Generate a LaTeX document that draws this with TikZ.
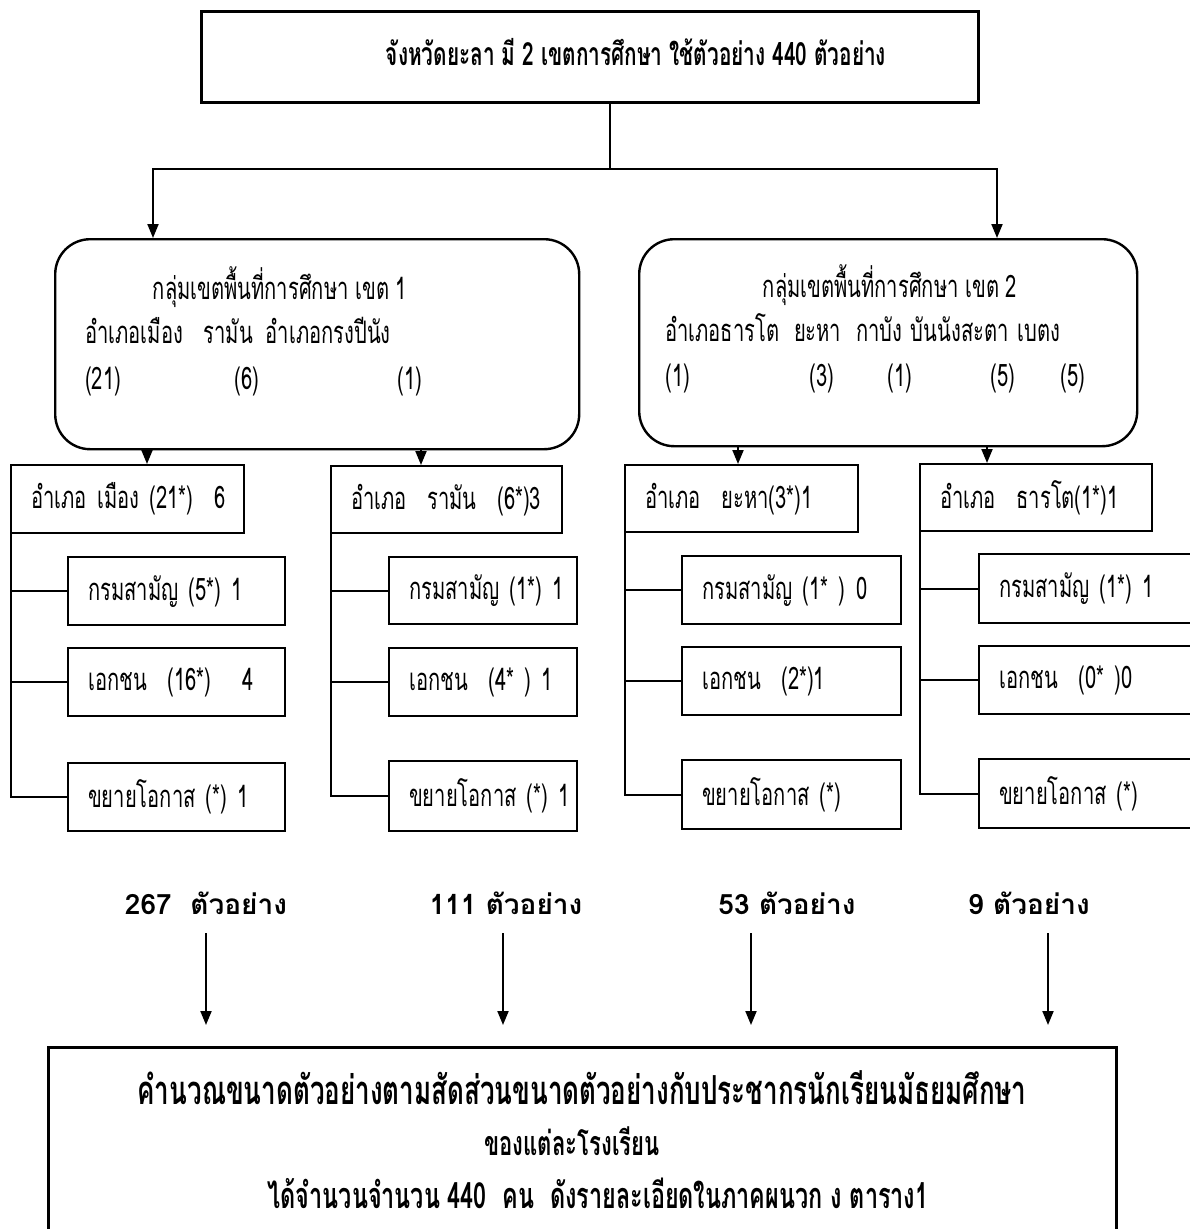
\documentclass[tikz,border=0pt]{standalone}
\usepackage{fontspec}
\setmainfont{Loma}[Script=Thai, FakeStretch=0.65]
\newfontfamily\labfont{Loma}[Script=Thai]
\usetikzlibrary{arrows.meta}
\hbadness=10000 \hfuzz=200pt
\begin{document}
\begin{tikzpicture}[x=1pt,y=-1pt,
  lnk/.style={line width=2pt},
  arr/.style={line width=2pt,-{Triangle[length=14pt,width=11pt]}},
  boxbase/.style={draw, line width=2.4pt, anchor=north west, inner ysep=0pt, inner xsep=20pt, align=left, font=\fontsize{31}{34}\selectfont},
  hdbox/.style={boxbase, text width=193pt, minimum height=68pt},
  rbox/.style={draw, line width=2.4pt, rounded corners=35pt, anchor=north west, inner sep=0pt},
  rtxt/.style={inner sep=0pt, font=\fontsize{31}{34}\selectfont},
  lab/.style={inner sep=0pt, font=\labfont\bfseries\fontsize{28}{31}\selectfont},
  btxt/.style={inner sep=0pt, font=\bfseries\fontsize{40}{44}\selectfont}]
\useasboundingbox (0,0) rectangle (1189,1229);
\fill[white] (0,0) rectangle (1189,1229);

% top box
\node[draw, line width=2.6pt, anchor=north west, minimum width=777pt, minimum height=91pt, inner sep=0pt] (top) at (200,10) {};
\node[inner sep=0pt, font=\bfseries\fontsize{32}{35}\selectfont] (toptxt) at (636,52) {จังหวัดยะลา มี 2 เขตการศึกษา ใช้ตัวอย่าง 440 ตัวอย่าง};

% rounded boxes
\node[rbox, minimum width=524pt, minimum height=210pt] (g1) at (54,238) {};
\node[rbox, minimum width=498pt, minimum height=207pt] (g2) at (638,238) {};

\node[rtxt] (g1h) at (280,287) {กลุ่มเขตพื้นที่การศึกษา เขต 1};
\node[rtxt, anchor=west] (g1l) at (85,330) {อำเภอเมือง\hspace{14pt} รามัน\hspace{6pt} อำเภอกรงปีนัง};
\node[rtxt, anchor=west] (g1n1) at (85,381) {(21)};
\node[rtxt] (g1n2) at (247,381) {(6)};
\node[rtxt] (g1n3) at (410,381) {(1)};

\node[rtxt] (g2h) at (890,285) {กลุ่มเขตพื้นที่การศึกษา เขต 2};
\node[rtxt, anchor=west] (g2l) at (665,328) {อำเภอธารโต\hspace{8pt} ยะหา\hspace{8pt} กาบัง\hspace{2pt} บันนังสะตา\hspace{2pt} เบตง};
\node[rtxt] (g2n1) at (678,378) {(1)};
\node[rtxt] (g2n2) at (822,378) {(3)};
\node[rtxt] (g2n3) at (900,378) {(1)};
\node[rtxt] (g2n4) at (1003,378) {(5)};
\node[rtxt] (g2n5) at (1073,378) {(5)};

% connectors from top
\coordinate (jn) at (610,169);
\coordinate (xa) at (153,0);
\coordinate (xb) at (997,0);
\draw[lnk] (top.south -| jn) -- (jn);
\draw[arr] (jn) -| (xa |- g1.north);
\draw[arr] (jn) -| (xb |- g2.north);

% header boxes
\node[hdbox] (h1) at (10,464) {\mbox{อำเภอ เมือง (21*)\ \ 6}};
\node[hdbox, text width=191pt, minimum height=67pt] (h2) at (330,465) {\mbox{อำเภอ\ \ รามัน\ \ (6*)3}};
\node[hdbox, minimum height=67pt] (h3) at (624,464) {\mbox{อำเภอ\ \ ยะหา(3*)1}};
\node[hdbox, text width=192pt, minimum height=67pt] (h4) at (919,463) {\mbox{อำเภอ\ \ ธารโต(1*)1}};

\coordinate (x1) at (147,0);
\coordinate (x2) at (421,0);
\coordinate (x3) at (738,0);
\coordinate (x4) at (987,0);
\draw[arr] (x1 |- g1.south) -- (x1 |- h1.north);
\draw[arr] (x2 |- g1.south) -- (x2 |- h2.north);
\draw[arr] (x3 |- g2.south) -- (x3 |- h3.north);
\draw[arr] (x4 |- g2.south) -- (x4 |- h4.north);

% sub boxes group 1
\node[boxbase, text width=177pt, minimum height=68pt] (s11) at (67,556) {\mbox{กรมสามัญ (5*) 1}};
\node[boxbase, text width=177pt, minimum height=68pt] (s12) at (67,647) {\mbox{เอกชน\ \ (16*)\ \ \ 4}};
\node[boxbase, text width=177pt, minimum height=68pt] (s13) at (67,762) {\mbox{ขยายโอกาส (*) 1}};
% group 2
\node[boxbase, text width=148pt, minimum height=67pt] (s21) at (388,556) {\mbox{กรมสามัญ (1*) 1}};
\node[boxbase, text width=148pt, minimum height=68pt] (s22) at (388,647) {\mbox{เอกชน\ \ (4* ) 1}};
\node[boxbase, text width=148pt, minimum height=70pt] (s23) at (388,760) {\mbox{ขยายโอกาส (*) 1}};
% group 3
\node[boxbase, text width=179pt, minimum height=68pt] (s31) at (681,555) {\mbox{กรมสามัญ (1* ) 0}};
\node[boxbase, text width=179pt, minimum height=68pt] (s32) at (681,646) {\mbox{เอกชน\ \ (2*)1}};
\node[boxbase, text width=179pt, minimum height=69pt] (s33) at (681,759) {\mbox{ขยายโอกาส (*)}};
% group 4
\node[boxbase, text width=200pt, minimum height=69pt] (s41) at (978,553) {\mbox{กรมสามัญ (1*) 1}};
\node[boxbase, text width=200pt, minimum height=68pt] (s42) at (978,645) {\mbox{เอกชน\ \ (0* )0}};
\node[boxbase, text width=200pt, minimum height=69pt] (s43) at (978,758) {\mbox{ขยายโอกาส (*)}};

% trunks and branches
\foreach \h/\a/\b/\c in {h1/s11/s12/s13, h2/s21/s22/s23, h3/s31/s32/s33, h4/s41/s42/s43}{
  \draw[lnk] ([xshift=1pt]\h.south west) |- (\c.west);
  \draw[lnk] ([xshift=1pt]\h.south west |- \a.west) -- (\a.west);
  \draw[lnk] ([xshift=1pt]\h.south west |- \b.west) -- (\b.west);
}

% sample labels
\node[lab] (l1) at (206,903) {267\ \ ตัวอย่าง};
\node[lab] (l2) at (506,903) {111 ตัวอย่าง};
\node[lab] (l3) at (787,903) {53 ตัวอย่าง};
\node[lab] (l4) at (1029,903) {9 ตัวอย่าง};

\foreach \i/\x in {1/206, 2/503, 3/751, 4/1048}{
  \coordinate (a\i s) at (\x,933);
  \coordinate (a\i e) at (\x,1025);
  \draw[arr] (a\i s) -- (a\i e);
}

% bottom box
\node[draw, line width=2.6pt, anchor=north west, minimum width=1068pt, minimum height=260pt, inner sep=0pt] (bot) at (47,1046) {};
\node[btxt] (b1) at (582,1088) {คำนวณขนาดตัวอย่างตามสัดส่วนขนาดตัวอย่างกับประชากรนักเรียนมัธยมศึกษา};
\node[btxt, font=\bfseries\fontsize{34}{38}\selectfont] (b2) at (572,1141) {ของแต่ละโรงเรียน};
\node[btxt, font=\bfseries\fontsize{36}{40}\selectfont] (b3) at (598,1193) {ได้จำนวนจำนวน 440\ \ คน\ \ ดังรายละเอียดในภาคผนวก ง ตาราง1};
\end{tikzpicture}
\end{document}
